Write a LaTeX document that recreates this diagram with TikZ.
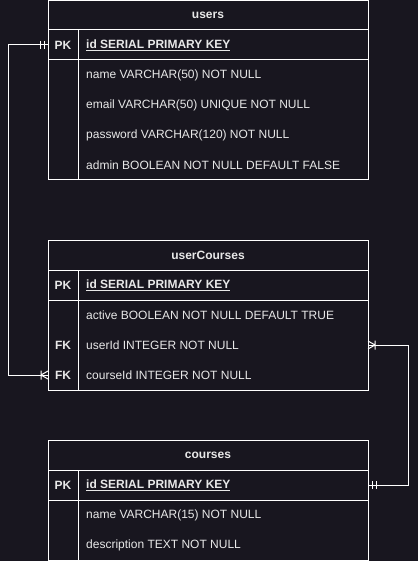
\documentclass[tikz,border=0pt]{standalone}
\usepackage{fontspec}
\setmainfont{Liberation Sans}
\usepackage{xcolor}
\usetikzlibrary{positioning}
\definecolor{bgdark}{RGB}{24,22,31}
\definecolor{fieldtext}{RGB}{232,232,232}
\newcommand{\erfont}{\fontsize{12}{14}\selectfont}
\tikzset{%
	tablebox/.style = {draw=white, line width=1pt, rectangle, inner sep=0pt, outer sep=0pt, minimum width=320pt, anchor=north west},
	header/.style   = {text=fieldtext, font=\erfont\bfseries},
	keytag/.style   = {text=fieldtext, font=\erfont\bfseries},
	field/.style    = {text=fieldtext, anchor=west, inner sep=0pt, font=\erfont},
	divider/.style  = {draw=white, line width=1pt},
	relation/.style = {draw=white, line width=1pt},
	onebar/.pic     = {\draw[white, line width=1pt] (-8,-4) -- (-8,4) (-4,-4) -- (-4,4);},
	crowfoot/.pic   = {\draw[white, line width=1pt] (-7,-4.5) -- (-7,4.5) (-7,0) -- (0,-4) (-7,0) -- (0,4);},
}
\begin{document}
\begin{tikzpicture}[x=1pt, y=-1pt]
		\fill[bgdark] (0,0) rectangle (418,561);
		\useasboundingbox (0,0) rectangle (418,561);
		
		% users
		\node[tablebox, minimum height=179pt] (users) at (48,1) {};
		\draw[divider] (users.west |- 0,30) -- (users.east |- 0,30);
		\draw[divider] (users.west |- 0,60) -- (users.east |- 0,60);
		\draw[divider] (78,30) -- (78,180);
		\node[header] (users-title) at (208,15) {users};
		\node[keytag] (users-pk) at (63,45) {PK};
		\node[field, font=\erfont\bfseries] (users-id) at (86,45) {\underline{id SERIAL PRIMARY KEY}};
		\node[field] (users-name) at (86,75) {name VARCHAR(50) NOT NULL};
		\node[field] (users-email) at (86,105) {email VARCHAR(50) UNIQUE NOT NULL};
		\node[field] (users-pass) at (86,135) {password VARCHAR(120) NOT NULL};
		\node[field] (users-admin) at (86,165) {admin BOOLEAN NOT NULL DEFAULT FALSE};
		
		% userCourses
		\node[tablebox, minimum height=150pt] (uc) at (48,240) {};
		\draw[divider] (uc.west |- 0,270) -- (uc.east |- 0,270);
		\draw[divider] (uc.west |- 0,300) -- (uc.east |- 0,300);
		\draw[divider] (78,270) -- (78,390);
		\node[header] (uc-title) at (208,255) {userCourses};
		\node[keytag] (uc-pk) at (63,285) {PK};
		\node[field, font=\erfont\bfseries] (uc-id) at (86,285) {\underline{id SERIAL PRIMARY KEY}};
		\node[field] (uc-active) at (86,315) {active BOOLEAN NOT NULL DEFAULT TRUE};
		\node[keytag] (uc-fk1) at (63,345) {FK};
		\node[field] (uc-user) at (86,345) {userId INTEGER NOT NULL};
		\node[keytag] (uc-fk2) at (63,375) {FK};
		\node[field] (uc-course) at (86,375) {courseId INTEGER NOT NULL};
		
		% courses
		\node[tablebox, minimum height=120pt] (courses) at (48,440) {};
		\draw[divider] (courses.west |- 0,470) -- (courses.east |- 0,470);
		\draw[divider] (courses.west |- 0,500) -- (courses.east |- 0,500);
		\draw[divider] (78,470) -- (78,560);
		\node[header] (courses-title) at (208,455) {courses};
		\node[keytag] (courses-pk) at (63,485) {PK};
		\node[field, font=\erfont\bfseries] (courses-id) at (86,485) {\underline{id SERIAL PRIMARY KEY}};
		\node[field] (courses-name) at (86,515) {name VARCHAR(15) NOT NULL};
		\node[field] (courses-desc) at (86,545) {description TEXT NOT NULL};
		
		% relations
		\draw[relation] (users.west |- users-pk) -- ++(-40,0) |- (uc.west |- uc-fk2);
		\pic at (users.west |- users-pk) {onebar};
		\pic at (uc.west |- uc-fk2) {crowfoot};
		
		\draw[relation] (uc.east |- uc-fk1) -- ++(40,0) |- (courses.east |- courses-pk);
		\pic[xscale=-1] at (uc.east |- uc-fk1) {crowfoot};
		\pic[xscale=-1] at (courses.east |- courses-pk) {onebar};
\end{tikzpicture}
\end{document}
